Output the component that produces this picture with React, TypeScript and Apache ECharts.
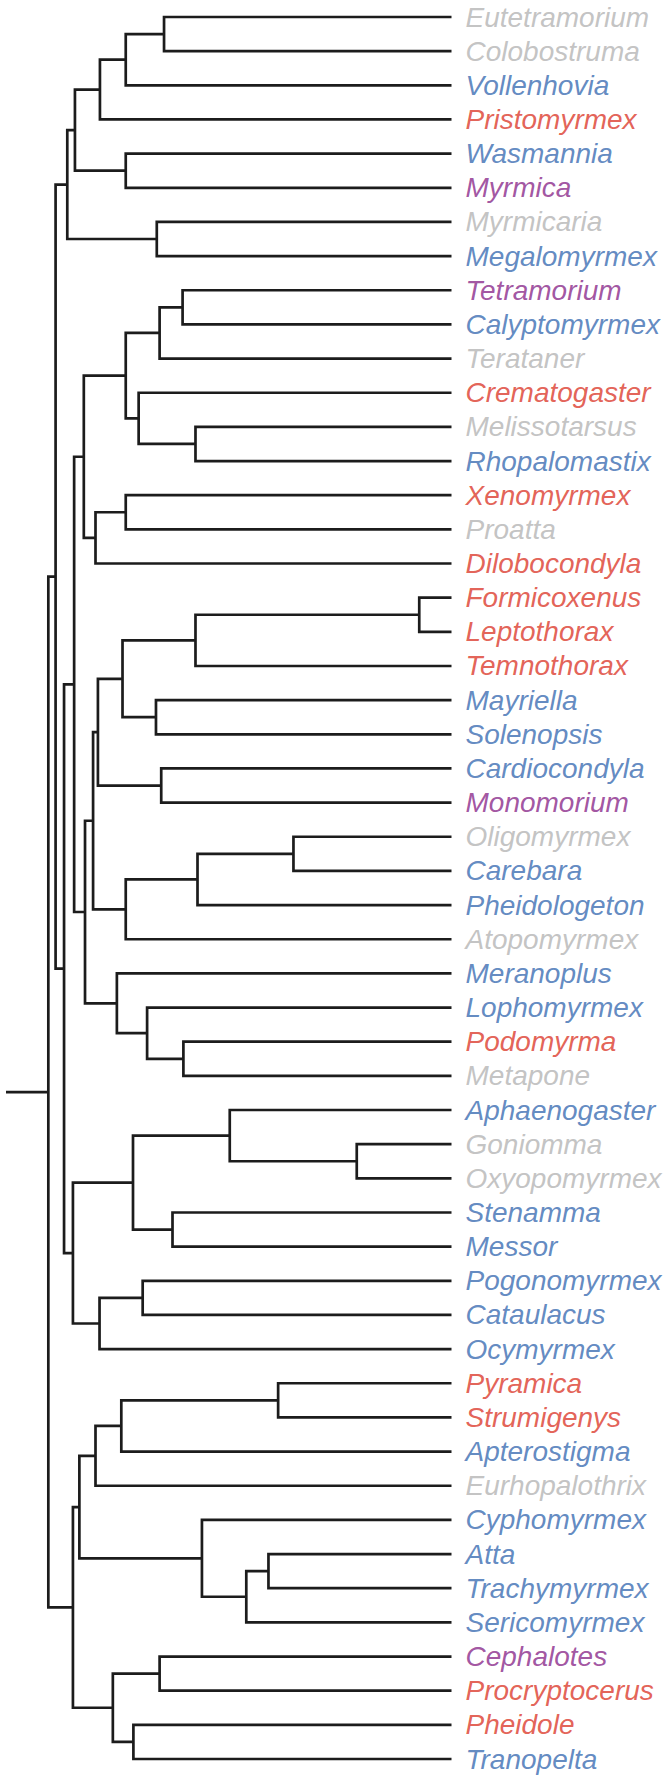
import React, { useEffect, useRef } from "react";
import * as echarts from "echarts";

// Leaves from top to bottom
const leaves: string[] = [
  "Eutetramorium", "Colobostruma", "Vollenhovia", "Pristomyrmex", "Wasmannia", "Myrmica",
  "Myrmicaria", "Megalomyrmex", "Tetramorium", "Calyptomyrmex", "Terataner", "Crematogaster",
  "Melissotarsus", "Rhopalomastix", "Xenomyrmex", "Proatta", "Dilobocondyla", "Formicoxenus",
  "Leptothorax", "Temnothorax", "Mayriella", "Solenopsis", "Cardiocondyla", "Monomorium",
  "Oligomyrmex", "Carebara", "Pheidologeton", "Atopomyrmex", "Meranoplus", "Lophomyrmex",
  "Podomyrma", "Metapone", "Aphaenogaster", "Goniomma", "Oxyopomyrmex", "Stenamma",
  "Messor", "Pogonomyrmex", "Cataulacus", "Ocymyrmex", "Pyramica", "Strumigenys",
  "Apterostigma", "Eurhopalothrix", "Cyphomyrmex", "Atta", "Trachymyrmex", "Sericomyrmex",
  "Cephalotes", "Procryptocerus", "Pheidole", "Tranopelta",
];

// Category of each leaf (g = grey, b = blue, r = red, p = purple)
const leafGroups: string[] = [
  "g", "g", "b", "r", "b", "p",
  "g", "b", "p", "b", "g", "r",
  "g", "b", "r", "g", "r", "r",
  "r", "r", "b", "b", "b", "p",
  "g", "b", "b", "g", "b", "b",
  "r", "g", "b", "g", "g", "b",
  "b", "b", "b", "b", "r", "r",
  "b", "g", "b", "b", "b", "b",
  "p", "r", "r", "b",
];

const groupColors: Record<string, string> = {
  g: "#b4b4b4",
  b: "#3a6cb2",
  r: "#dc3a2c",
  p: "#8a2a8a",
};

// Internal nodes: [name, child A, child B, depth (root = 0, tips = 100)]
const clades: [string, string, string, number][] = [
  ["c1", "Eutetramorium", "Colobostruma", 28.7],
  ["c2", "c1", "Vollenhovia", 19.2],
  ["c3", "c2", "Pristomyrmex", 12.8],
  ["c4", "Wasmannia", "Myrmica", 19.2],
  ["c5", "c3", "c4", 6.6],
  ["c6", "Myrmicaria", "Megalomyrmex", 26.9],
  ["c7", "c5", "c6", 4.7],
  ["c8", "Tetramorium", "Calyptomyrmex", 33.3],
  ["c9", "c8", "Terataner", 27.6],
  ["c10", "Melissotarsus", "Rhopalomastix", 36.5],
  ["c11", "Crematogaster", "c10", 22.4],
  ["c12", "c9", "c11", 19.2],
  ["c13", "Xenomyrmex", "Proatta", 19.2],
  ["c14", "c13", "Dilobocondyla", 11.7],
  ["c15", "c12", "c14", 8.8],
  ["c16", "Formicoxenus", "Leptothorax", 92.0],
  ["c17", "c16", "Temnothorax", 36.5],
  ["c18", "Mayriella", "Solenopsis", 26.7],
  ["c19", "c17", "c18", 18.4],
  ["c20", "Cardiocondyla", "Monomorium", 28.0],
  ["c21", "c19", "c20", 12.3],
  ["c22", "Oligomyrmex", "Carebara", 60.8],
  ["c23", "c22", "Pheidologeton", 37.0],
  ["c24", "c23", "Atopomyrmex", 19.2],
  ["c25", "c21", "c24", 11.1],
  ["c26", "Podomyrma", "Metapone", 33.5],
  ["c27", "Lophomyrmex", "c26", 24.5],
  ["c28", "Meranoplus", "c27", 17.0],
  ["c29", "c25", "c28", 9.1],
  ["c30", "c15", "c29", 6.4],
  ["c31", "Goniomma", "Oxyopomyrmex", 76.5],
  ["c32", "Aphaenogaster", "c31", 45.0],
  ["c33", "Stenamma", "Messor", 30.8],
  ["c34", "c32", "c33", 21.0],
  ["c35", "Pogonomyrmex", "Cataulacus", 23.4],
  ["c36", "c35", "Ocymyrmex", 12.7],
  ["c37", "c34", "c36", 6.1],
  ["c38", "c30", "c37", 3.9],
  ["c39", "c7", "c38", 1.8],
  ["c40", "Pyramica", "Strumigenys", 57.0],
  ["c41", "c40", "Apterostigma", 18.1],
  ["c42", "c41", "Eurhopalothrix", 11.7],
  ["c43", "Atta", "Trachymyrmex", 54.6],
  ["c44", "c43", "Sericomyrmex", 49.1],
  ["c45", "Cyphomyrmex", "c44", 38.1],
  ["c46", "c42", "c45", 7.7],
  ["c47", "Cephalotes", "Procryptocerus", 27.6],
  ["c48", "Pheidole", "Tranopelta", 21.1],
  ["c49", "c47", "c48", 16.0],
  ["c50", "c46", "c49", 6.1],
  ["root", "c39", "c50", 0],
];

const tipDepth = 100;
const rootStubDepth = -10.5;

export default function App() {
  const ref = useRef<HTMLDivElement>(null);

  useEffect(() => {
    if (!ref.current) return;
    const chart = echarts.init(ref.current, undefined, { renderer: "svg" });

    const pos: Record<string, { x: number; y: number }> = {};
    leaves.forEach((n, i) => {
      pos[n] = { x: tipDepth, y: i };
    });
    const segData: number[][] = [];
    clades.forEach(([name, a, b, d]) => {
      const pa = pos[a];
      const pb = pos[b];
      pos[name] = { x: d, y: (pa.y + pb.y) / 2 };
      segData.push([d, pa.y, pb.y, pa.x, pb.x]);
    });
    const root = pos["root"];
    segData.push([root.x, root.y, root.y, rootStubDepth, root.x]);

    const labelData = leaves.map((n, i) => ({
      value: [tipDepth, i],
      name: n,
      label: { color: groupColors[leafGroups[i]] },
    }));

    chart.setOption({
      animation: false,
      grid: { left: 6, right: 220.5, top: 17, height: 1742 },
      xAxis: { type: "value", min: rootStubDepth, max: tipDepth, show: false },
      yAxis: { type: "value", min: 0, max: leaves.length - 1, inverse: true, show: false },
      series: [
        {
          type: "custom",
          clip: false,
          data: segData,
          renderItem: (params: any, api: any) => {
            const p1 = api.coord([api.value(3), api.value(1)]);
            const p2 = api.coord([api.value(0), api.value(1)]);
            const p3 = api.coord([api.value(0), api.value(2)]);
            const p4 = api.coord([api.value(4), api.value(2)]);
            return {
              type: "polyline",
              shape: { points: [p1, p2, p3, p4] },
              style: { stroke: "#1c1c1c", lineWidth: 2.7, fill: "none", lineJoin: "miter" },
            };
          },
        },
        {
          type: "scatter",
          symbolSize: 0,
          data: labelData,
          label: {
            show: true,
            position: "right",
            distance: 14,
            formatter: (p: any) => p.name,
            fontFamily: "Liberation Sans",
            fontStyle: "italic",
            fontSize: 28,
          },
        },
      ],
    });

    return () => chart.dispose();
  }, []);

  return (
    <div
      ref={ref}
      style={{ position: "absolute", left: 0, top: 0, width: 672, height: 1776 }}
    />
  );
}
